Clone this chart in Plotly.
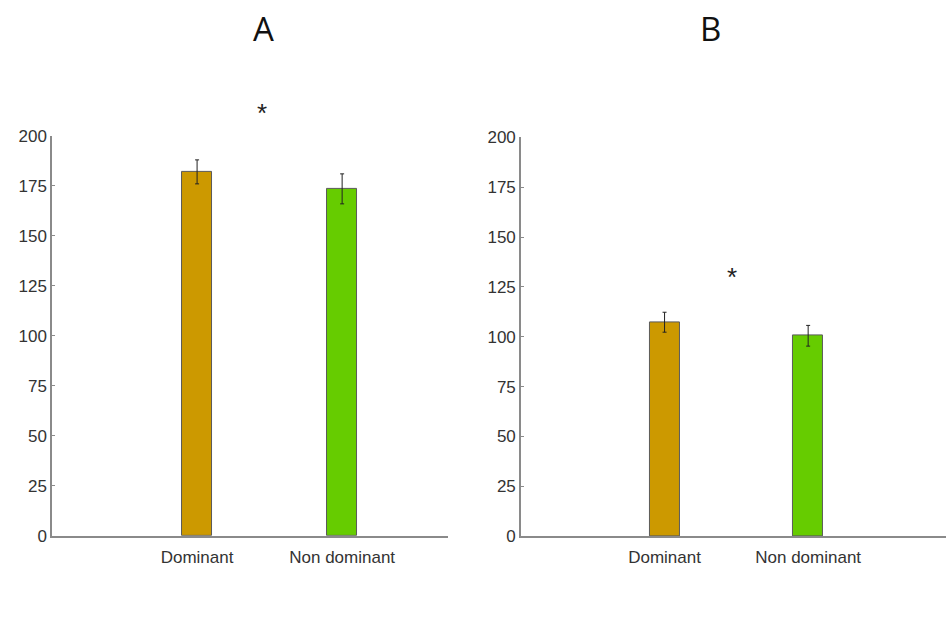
import plotly.graph_objects as go
from plotly.subplots import make_subplots

# Group labels and summary values (mean ± error) for each panel
categories = ["Dominant", "Non dominant"]
panel_titles = ["A", "B"]
means_a = [182.0, 173.5]
errors_a = [6.0, 7.5]
means_b = [107.3, 100.5]
errors_b = [5.0, 5.2]
sig_b = 130  # y position of the significance star, panel B
y_ticks = [0, 25, 50, 75, 100, 125, 150, 175, 200]
bar_colors = ["#CC9900", "#66CC00"]

positions = [1, 2]

fig = make_subplots(rows=1, cols=2)

for col, (means, errs) in enumerate([(means_a, errors_a), (means_b, errors_b)], start=1):
    fig.add_trace(
        go.Bar(
            x=positions,
            y=means,
            width=0.21,
            marker=dict(color=bar_colors, line=dict(color="#5a5a5a", width=1)),
            error_y=dict(type="data", array=errs, visible=True,
                         color="#222222", thickness=1, width=2),
            showlegend=False,
            hoverinfo="skip",
        ),
        row=1, col=col,
    )

axis_font = dict(family="Liberation Sans, Arial, sans-serif", size=17, color="#333333")

fig.update_layout(
    width=946, height=623,
    margin=dict(l=0, r=0, t=0, b=0),
    paper_bgcolor="white",
    plot_bgcolor="white",
    bargap=0,
    xaxis=dict(domain=[0.055, 0.4736], range=[0.0, 2.73]),
    xaxis2=dict(domain=[0.5507, 1.0], range=[0.0, 2.96]),
    yaxis=dict(domain=[0.1281, 0.7899], range=[0, 200]),
    yaxis2=dict(domain=[0.1273, 0.7874], range=[0, 200]),
)

fig.update_xaxes(
    tickvals=positions, ticktext=categories, ticks="",
    showline=True, linecolor="#8a8a8a", linewidth=1.5,
    showgrid=False, zeroline=False, tickfont=axis_font,
    ticklabelstandoff=5, fixedrange=True,
)
fig.update_yaxes(
    tickvals=y_ticks, ticks="inside", ticklen=3, tickcolor="#8a8a8a",
    showline=True, linecolor="#8a8a8a", linewidth=1.5,
    showgrid=False, zeroline=False, tickfont=axis_font,
    fixedrange=True,
)

# Panel letters
title_font = dict(family="Open Sans, Lato, sans-serif", size=33, color="#111111")
for label, xc in zip(panel_titles, [263, 710]):
    fig.add_annotation(text=label, x=xc / 946, y=0.967, xref="paper", yref="paper",
                       showarrow=False, font=title_font, xanchor="center", yanchor="middle")

# Significance stars between the two bars
star_font = dict(family="Liberation Sans, Arial, sans-serif", size=26, color="#222222")
fig.add_annotation(text="*", x=262 / 946, y=0.827, xref="paper", yref="paper",
                   showarrow=False, font=star_font, xanchor="center", yanchor="middle")
fig.add_annotation(text="*", x=1.47, y=sig_b, xref="x2", yref="y2",
                   showarrow=False, font=star_font, yanchor="middle")

fig.write_html("out.html")
